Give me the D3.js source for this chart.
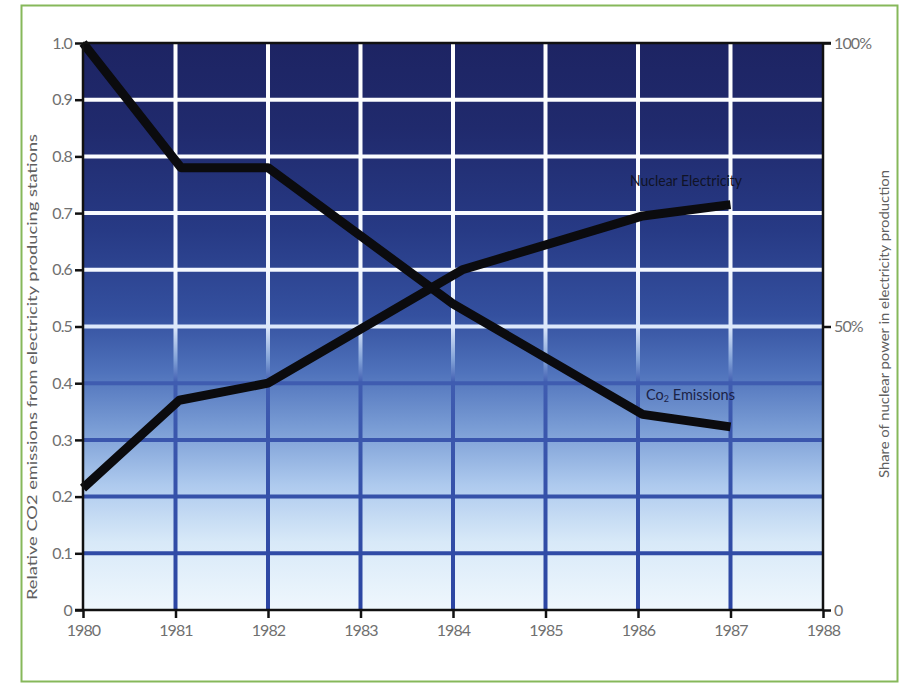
<!DOCTYPE html>
<html>
<head>
<meta charset="utf-8">
<script src="https://cdn.jsdelivr.net/npm/d3@7/dist/d3.min.js"></script>
<style>
  html, body { margin: 0; padding: 0; background: #ffffff; }
  svg { display: block; }
  text { font-family: Lato, "Open Sans", sans-serif; }
</style>
</head>
<body>
<svg id="chart" width="905" height="685"></svg>
<script>
// Years on the horizontal axis
const years = [1980, 1981, 1982, 1983, 1984, 1985, 1986, 1987, 1988];

// Relative CO2 emissions from electricity producing stations (left axis)
const co2Years  = [1980, 1981.06, 1982, 1984, 1986.05, 1987];
const co2Values = [1.0, 0.78, 0.78, 0.54, 0.345, 0.323];

// Share of nuclear power in electricity production, % (right axis)
const nucYears  = [1980, 1981.04, 1982, 1984.1, 1986.05, 1987];
const nucValues = [21.5, 37, 40, 60, 69.5, 71.5];

const leftTicks  = [0, 0.1, 0.2, 0.3, 0.4, 0.5, 0.6, 0.7, 0.8, 0.9, 1.0];
const leftTickLabels = ["0", "0.1", "0.2", "0.3", "0.4", "0.5", "0.6", "0.7", "0.8", "0.9", "1.0"];
const rightTicks = [0, 50, 100];
const rightTickLabels = ["0", "50%", "100%"];

const svg = d3.select("#chart");
const M = { left: 83, right: 823, top: 43, bottom: 610 };

const x  = d3.scaleLinear().domain([1980, 1988]).range([M.left, M.right]);
const yL = d3.scaleLinear().domain([0, 1]).range([M.bottom, M.top]);
const yR = d3.scaleLinear().domain([0, 100]).range([M.bottom, M.top]);

// Page frame
svg.append("rect")
  .attr("x", 21.5).attr("y", 5.5).attr("width", 876).attr("height", 676)
  .attr("fill", "none").attr("stroke", "#86b85a").attr("stroke-width", 2);

const defs = svg.append("defs");

// Plot background: dark navy at top fading to pale blue at the bottom
const bgStops = [
  [0.00, "#1d2463"], [0.15, "#202a6d"], [0.33, "#273a85"], [0.48, "#34509f"],
  [0.58, "#4f72bb"], [0.68, "#7a9dd5"], [0.78, "#aecaee"], [0.88, "#d8e9f8"],
  [1.00, "#eff7fd"]
];
const bg = defs.append("linearGradient").attr("id", "bgGrad")
  .attr("gradientUnits", "userSpaceOnUse")
  .attr("x1", 0).attr("x2", 0).attr("y1", M.top).attr("y2", M.bottom);
bgStops.forEach(([o, c]) => bg.append("stop").attr("offset", o).attr("stop-color", c));

// Grid lines: white over the dark part, deep blue over the pale part
const gridStops = [
  [0.00, "#ffffff"], [0.40, "#f4f8ff"], [0.50, "#dce8fb"], [0.56, "#7f9fd6"],
  [0.60, "#3f5cb0"], [1.00, "#2b45a2"]
];
const gg = defs.append("linearGradient").attr("id", "gridGrad")
  .attr("gradientUnits", "userSpaceOnUse")
  .attr("x1", 0).attr("x2", 0).attr("y1", M.top).attr("y2", M.bottom);
gridStops.forEach(([o, c]) => gg.append("stop").attr("offset", o).attr("stop-color", c));

// colour of the grid gradient at a given height
function gridColorAt(py) {
  const t = (py - M.top) / (M.bottom - M.top);
  for (let i = 0; i < gridStops.length - 1; i++) {
    const [o0, c0] = gridStops[i], [o1, c1] = gridStops[i + 1];
    if (t >= o0 && t <= o1) return d3.interpolateRgb(c0, c1)((t - o0) / (o1 - o0));
  }
  return gridStops[gridStops.length - 1][1];
}

svg.append("rect")
  .attr("x", M.left).attr("y", M.top)
  .attr("width", M.right - M.left).attr("height", M.bottom - M.top)
  .attr("fill", "url(#bgGrad)");

const grid = svg.append("g");
grid.selectAll("line.v")
  .data(years.filter(d => d > 1980 && d < 1988))
  .join("line").attr("class", "v")
  .attr("x1", d => x(d)).attr("x2", d => x(d))
  .attr("y1", M.top).attr("y2", M.bottom)
  .attr("stroke", "url(#gridGrad)").attr("stroke-width", 4);
grid.selectAll("line.h")
  .data(leftTicks.filter(d => d > 0 && d < 1))
  .join("line").attr("class", "h")
  .attr("x1", M.left).attr("x2", M.right)
  .attr("y1", d => yL(d)).attr("y2", d => yL(d))
  .attr("stroke", d => gridColorAt(yL(d)))
  .attr("stroke-width", 4);

// Data lines
const co2Line = d3.line().x(d => x(d[0])).y(d => yL(d[1]));
const nucLine = d3.line().x(d => x(d[0])).y(d => yR(d[1]));

svg.append("path")
  .datum(co2Years.map((yr, i) => [yr, co2Values[i]]))
  .attr("d", co2Line)
  .attr("fill", "none").attr("stroke", "#0b0b0e").attr("stroke-width", 9)
  .attr("stroke-linejoin", "round");

svg.append("path")
  .datum(nucYears.map((yr, i) => [yr, nucValues[i]]))
  .attr("d", nucLine)
  .attr("fill", "none").attr("stroke", "#0b0b0e").attr("stroke-width", 9)
  .attr("stroke-linejoin", "round");

// Axes
const tickColor = "#707070";
const axisLeft = svg.append("g").attr("transform", `translate(${M.left},0)`)
  .call(d3.axisLeft(yL).tickValues(leftTicks).tickFormat((d, i) => leftTickLabels[i])
    .tickSize(8).tickPadding(3));
const axisBottom = svg.append("g").attr("transform", `translate(0,${M.bottom})`)
  .call(d3.axisBottom(x).tickValues(years).tickFormat(d3.format("d"))
    .tickSize(8).tickPadding(7));
const axisRight = svg.append("g").attr("transform", `translate(${M.right},0)`)
  .call(d3.axisRight(yR).tickValues(rightTicks).tickFormat((d, i) => rightTickLabels[i])
    .tickSize(8).tickPadding(3));

[axisLeft, axisBottom, axisRight].forEach(g => {
  g.select(".domain").attr("stroke", "#111").attr("stroke-width", 2.5);
  g.selectAll(".tick line").attr("stroke", "#111").attr("stroke-width", 2.5);
  g.selectAll(".tick text").attr("fill", tickColor)
    .style("font-size", "16px").style("font-family", "Lato, sans-serif")
    .attr("letter-spacing", "-0.9");
});
axisLeft.select(".domain").attr("d", `M0,${M.bottom}V${M.top}`);
axisRight.select(".domain").attr("d", `M0,${M.bottom}V${M.top}`);
axisBottom.select(".domain").attr("d", `M${M.left - 8},0H${M.right}`);

// Top edge of plot
svg.append("line")
  .attr("x1", M.left).attr("x2", M.right + 8)
  .attr("y1", M.top).attr("y2", M.top)
  .attr("stroke", "#111").attr("stroke-width", 2.5);

// Axis titles
svg.append("text")
  .attr("transform", `translate(37,367) rotate(-90)`)
  .attr("text-anchor", "middle")
  .attr("fill", "#606060").style("font-size", "14px")
  .attr("textLength", 466).attr("lengthAdjust", "spacingAndGlyphs")
  .text("Relative CO2 emissions from electricity producing stations");

svg.append("text")
  .attr("transform", `translate(889,324) rotate(-90)`)
  .attr("text-anchor", "middle")
  .attr("fill", "#606060").style("font-size", "14px")
  .attr("textLength", 308).attr("lengthAdjust", "spacingAndGlyphs")
  .text("Share of nuclear power in electricity production");

// Series labels
svg.append("text")
  .attr("x", 630).attr("y", 186)
  .attr("fill", "#101326").style("font-size", "14.5px")
  .attr("textLength", 112).attr("lengthAdjust", "spacingAndGlyphs")
  .text("Nuclear Electricity");

const co2Label = svg.append("text")
  .attr("x", 646).attr("y", 400)
  .attr("fill", "#1b2347").style("font-size", "14.5px");
co2Label.append("tspan").text("Co");
co2Label.append("tspan").attr("dy", 2).style("font-size", "9px").text("2");
co2Label.append("tspan").attr("dy", -2).text(" Emissions");
</script>
</body>
</html>
